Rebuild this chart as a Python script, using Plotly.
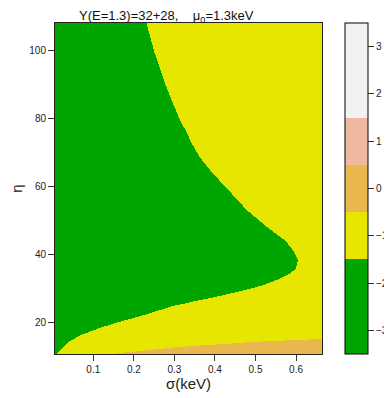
import numpy as np
import plotly.graph_objects as go

# Green / yellow boundary: (eta, sigma) pairs
boundary_eta = [10.7, 12.6, 14.6, 16.4, 18.2, 19.6, 22.3, 24.9, 26.9, 29.1,
                30.8, 32.6, 34.4, 35.8, 38.5, 41.2, 44.1, 48.5, 53.0,
                55.9, 63.9, 68.6, 79.5, 85.4, 89.2, 99.3, 108.0]
boundary_sigma = [0.010, 0.026, 0.043, 0.072, 0.112, 0.148, 0.228, 0.297, 0.380, 0.462,
                  0.516, 0.556, 0.585, 0.600, 0.605, 0.593, 0.573, 0.524, 0.479,
                  0.457, 0.395, 0.363, 0.312, 0.292, 0.279, 0.250, 0.230]

# Yellow / orange boundary: (sigma, eta) pairs
lower_sigma = [0.0, 0.141, 0.314, 0.519, 0.664]
lower_eta = [9.0, 10.7, 12.8, 14.4, 15.1]

# Level values for the three regions
level_green = -2
level_yellow = -1
level_orange = 0

sigma_range = [0.0055, 0.664]
eta_range = [10.7, 108.0]

colorbar_ticks = [-3, -2, -1, 0, 1, 2, 3]
colorbar_labels = ["\u22123", "\u22122", "\u22121", "0", "1", "2", "3"]
level_edges = [-3.5, -1.5, -0.5, 0.5, 1.5, 3.5]
level_colors = ["#00A600", "#E6E600", "#EAB64E", "#EEB99F", "#F2F2F2"]

nx, ny = 268, 331
dx = (sigma_range[1] - sigma_range[0]) / nx
dy = (eta_range[1] - eta_range[0]) / ny
xs = np.linspace(sigma_range[0] + dx / 2, sigma_range[1] - dx / 2, nx)
ys = np.linspace(eta_range[0] + dy / 2, eta_range[1] - dy / 2, ny)
X, Y = np.meshgrid(xs, ys)
sig_b = np.interp(Y, boundary_eta, boundary_sigma)
eta_o = np.interp(X, lower_sigma, lower_eta)
Z = np.full(X.shape, float(level_yellow))
Z[X < sig_b] = level_green
Z[Y < eta_o] = level_orange

zmin, zmax = level_edges[0], level_edges[-1]
cs = []
for i, c in enumerate(level_colors):
    a = (level_edges[i] - zmin) / (zmax - zmin)
    b = (level_edges[i + 1] - zmin) / (zmax - zmin)
    cs.append([a, c])
    cs.append([b, c])

OFF = 8  # page body margin
W, H = 392 - OFF, 398 - OFF
PL, PR = 55 - OFF, 322 - OFF
PT, PB = 23 - OFF, 354 - OFF
pw = PR - PL
ph = PB - PT
cb_x0 = (345 - OFF - PL) / pw
cb_x1 = (368 - OFF - PL) / pw

fig = go.Figure(go.Heatmap(
    x=xs, y=ys, z=Z, zmin=zmin, zmax=zmax, colorscale=cs, zsmooth=False,
    colorbar=dict(
        x=cb_x0, xanchor="left", xref="paper",
        y=0.5, yanchor="middle", len=1.0, lenmode="fraction",
        thickness=23, thicknessmode="pixels",
        outlinewidth=1, outlinecolor="black",
        tickvals=colorbar_ticks, ticktext=colorbar_labels,
        ticks="outside", ticklen=6, tickcolor="#333333",
        tickfont=dict(family="Liberation Sans, Arial", size=10, color="#222222"),
        xpad=0, ypad=0,
    ),
    showscale=True,
))

# separators between colour bands in the colour bar
for v in level_edges[1:-1]:
    yy = (v - zmin) / (zmax - zmin)
    fig.add_shape(type="line", xref="paper", yref="paper",
                  x0=cb_x0, x1=cb_x1, y0=yy, y1=yy,
                  line=dict(color="black", width=1))

fig.update_layout(
    width=W, height=H,
    margin=dict(l=PL, r=W - PR, t=PT, b=H - PB, autoexpand=False),
    plot_bgcolor="white", paper_bgcolor="white",
    font=dict(family="Liberation Sans, Arial", color="#222222"),
    showlegend=False,
)
fig.update_xaxes(range=sigma_range, tickvals=[0.1, 0.2, 0.3, 0.4, 0.5, 0.6],
                 ticktext=["0.1", "0.2", "0.3", "0.4", "0.5", "0.6"],
                 ticks="outside", ticklen=6, tickcolor="#333333",
                 showline=True, mirror=True, linecolor="#222222", linewidth=1,
                 showgrid=False, zeroline=False, automargin=False,
                 tickfont=dict(size=10),
                 title=dict(text="\u03c3(keV)", font=dict(size=15), standoff=4))
fig.update_yaxes(range=eta_range, tickvals=[20, 40, 60, 80, 100],
                 ticks="outside", ticklen=6, tickcolor="#333333",
                 showline=True, mirror=True, linecolor="#222222", linewidth=1,
                 showgrid=False, zeroline=False, automargin=False,
                 tickfont=dict(size=10),
                 title=dict(text="\u03b7", font=dict(size=15), standoff=10))

fig.add_annotation(text="Y(E=1.3)=32+28,    \u03bc<sub>0</sub>=1.3keV",
                   xref="paper", yref="paper", x=(166 - OFF - PL) / pw,
                   y=1.0 + PT / ph, xanchor="center", yanchor="top", yshift=1,
                   borderpad=0, showarrow=False,
                   font=dict(size=13, color="#111111"))

fig.write_html("out.html")
